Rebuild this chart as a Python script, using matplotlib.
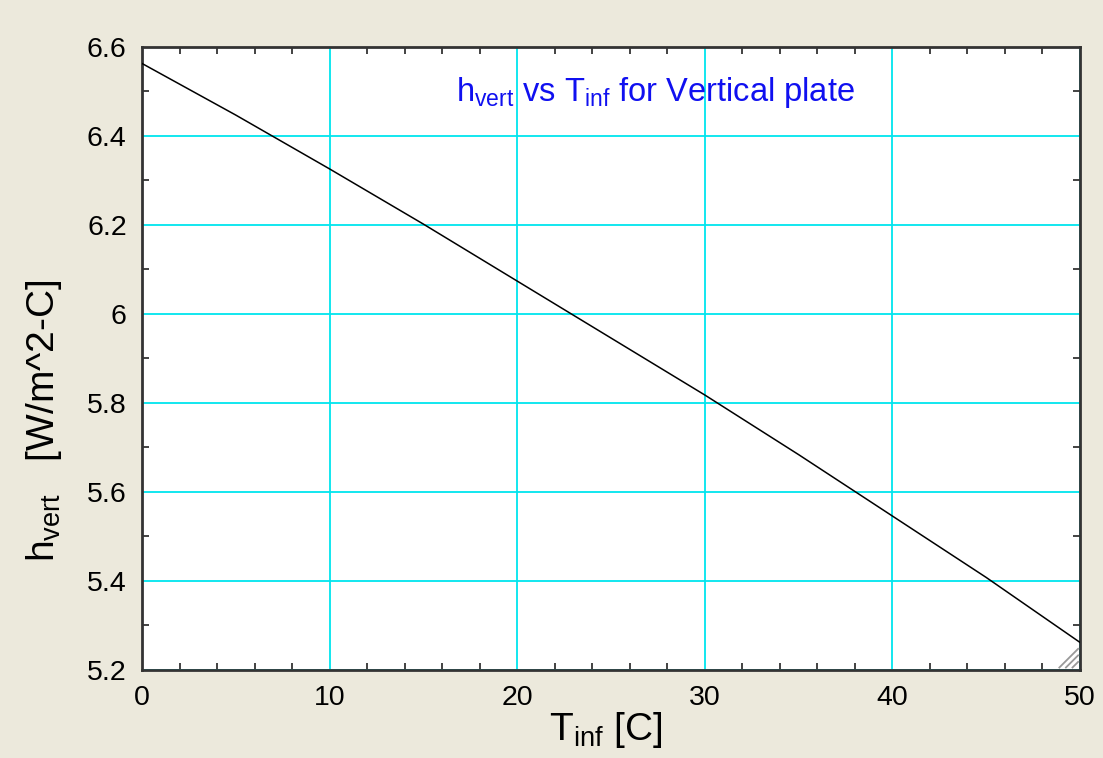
import numpy as np
import matplotlib
matplotlib.use('Agg')
import matplotlib.pyplot as plt
from matplotlib.ticker import MultipleLocator

# values
t_inf = [0, 5, 10, 15, 20, 25, 30, 35, 40, 45, 50]
h_vert = [6.563, 6.447, 6.326, 6.202, 6.074, 5.946, 5.818, 5.684, 5.546, 5.408, 5.262]

x_ticks = [0, 10, 20, 30, 40, 50]
y_ticks = [5.2, 5.4, 5.6, 5.8, 6.0, 6.2, 6.4, 6.6]
y_tick_labels = ['5.2', '5.4', '5.6', '5.8', '6', '6.2', '6.4', '6.6']

plt.rcParams['font.family'] = ['Liberation Sans', 'DejaVu Sans']
plt.rcParams['mathtext.fontset'] = 'custom'
plt.rcParams['mathtext.rm'] = 'Liberation Sans'
plt.rcParams['mathtext.it'] = 'Liberation Sans'

bg = '#ECE9DC'
fig = plt.figure(figsize=(11.03, 7.58), dpi=100, facecolor=bg)
ax = fig.add_axes([142 / 1103, 1 - 670 / 758, (1080 - 142) / 1103, (670 - 47) / 758])
ax.set_facecolor('white')

ax.plot(t_inf, h_vert, color='black', lw=1.1, zorder=3)

ax.set_xlim(0, 50)
ax.set_ylim(5.2, 6.6)
ax.set_xticks(x_ticks)
ax.set_yticks(y_ticks)
ax.set_yticklabels(y_tick_labels)
ax.xaxis.set_minor_locator(MultipleLocator(2))
ax.yaxis.set_minor_locator(MultipleLocator(0.1))

ax.grid(True, which='major', color='#00E5EE', lw=1.3, zorder=1)
ax.tick_params(which='major', length=0, labelsize=20.5, pad=11, labelcolor='black')
ax.tick_params(which='minor', direction='in', length=5, width=1.2, color='#222222',
               top=True, right=True)
for s in ax.spines.values():
    s.set_color('#333333')
    s.set_linewidth(2)

ax.set_xlabel(r'$\mathregular{T_{inf}}$ [C]', fontsize=28)
ax.set_ylabel(r'$\mathregular{h_{vert}}$   [W/m^2-C]', fontsize=28)
ax.xaxis.set_label_coords(0.494, -0.064)
ax.yaxis.set_label_coords(-0.083, 0.40)

ax.text(0.547, 0.927, r'$\mathregular{h_{vert}}$ vs $\mathregular{T_{inf}}$ for Vertical plate',
        transform=ax.transAxes, ha='center', va='center', fontsize=23.5, color='#1010F0')

# little resize grip in the lower right corner
for k in range(3):
    d = 0.006 + k * 0.007
    ax.plot([1 - 0.002, 1 - d - 0.002], [0.004 + d * 1.5, 0.004], color='#999999',
            lw=1.3, transform=ax.transAxes, clip_on=False, zorder=4)

fig.savefig('out.png', dpi=100, facecolor=bg)
